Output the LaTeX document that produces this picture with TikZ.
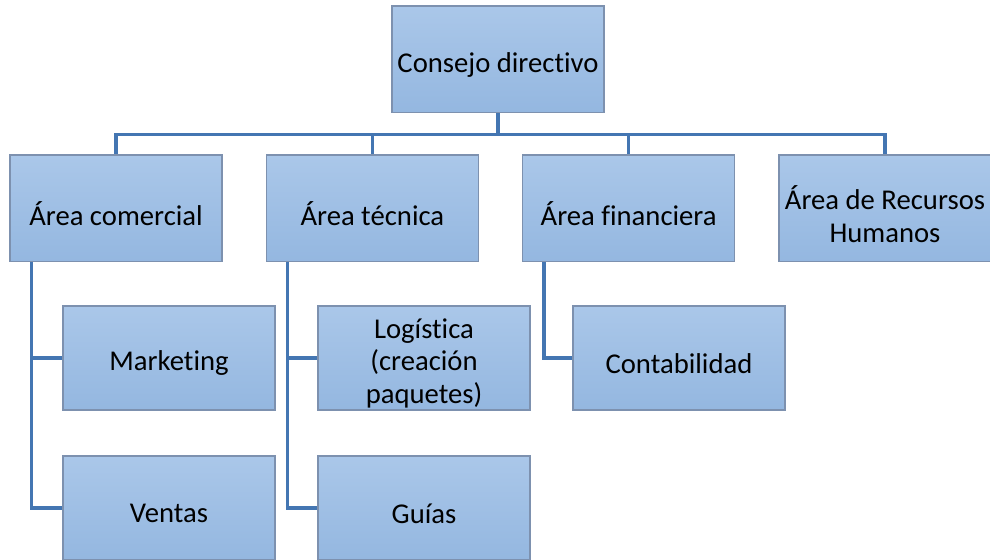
\documentclass[tikz,border=0pt]{standalone}
\usepackage{fontspec}
\setmainfont{Carlito}[Ligatures=NoCommon]
\usepackage{xcolor}
\definecolor{cajaA}{RGB}{170,199,233}
\definecolor{cajaB}{RGB}{148,183,224}
\definecolor{borde}{RGB}{125,145,175}
\definecolor{linea}{RGB}{68,118,178}
\usepackage{tikz}
\usetikzlibrary{positioning}

\begin{document}
\begin{tikzpicture}[
    x=0.75pt,y=0.75pt,
    node distance=32.25pt,
    texto/.style={font=\fontsize{21.5}{24.5}\selectfont,align=center,yshift=-4pt},
    caja/.style={draw=borde,line width=1pt,top color=cajaA,bottom color=cajaB,
      minimum width=159pt,minimum height=80pt,inner sep=0pt,
      label={[texto]center:#1}},
    sub/.style={caja=#1,minimum height=78pt},
    rama/.style={draw=linea,line width=2.4pt}
    ]
    \useasboundingbox (0,0) rectangle (990,560);

    \node[caja={Consejo directivo}] (consejo) at (498,500.5) {};

    \node[caja={Área comercial}] (comercial) at (116,351.5) {};
    \node[caja={Área técnica}, right=of comercial] (tecnica) {};
    \node[caja={Área financiera}, right=of tecnica] (financiera) {};
    \node[caja={Área de Recursos\\Humanos}, right=of financiera] (rrhh) {};

    \node[sub={Marketing}] (marketing) at (169,202) {};
    \node[sub={Ventas}] (ventas) at (169,52) {};
    \node[sub={Logística\\(creación\\paquetes)}] (logistica) at (424,202) {};
    \node[sub={Guías}] (guias) at (424,52) {};
    \node[sub={Contabilidad}] (contabilidad) at (679,202) {};

    % consejo -> areas
    \foreach \area in {comercial,tecnica,financiera,rrhh}
      \draw[rama] (consejo.south) -- ++(0,-21) -| (\area.north);

    % areas -> subareas
    \coordinate (bc) at ([xshift=16.5pt]comercial.south west);
    \coordinate (bt) at ([xshift=16.5pt]tecnica.south west);
    \coordinate (bf) at ([xshift=16.5pt]financiera.south west);
    \draw[rama] (bc) |- (marketing.west);
    \draw[rama] (bc) |- (ventas.west);
    \draw[rama] (bt) |- (logistica.west);
    \draw[rama] (bt) |- (guias.west);
    \draw[rama] (bf) |- (contabilidad.west);
\end{tikzpicture}
\end{document}
